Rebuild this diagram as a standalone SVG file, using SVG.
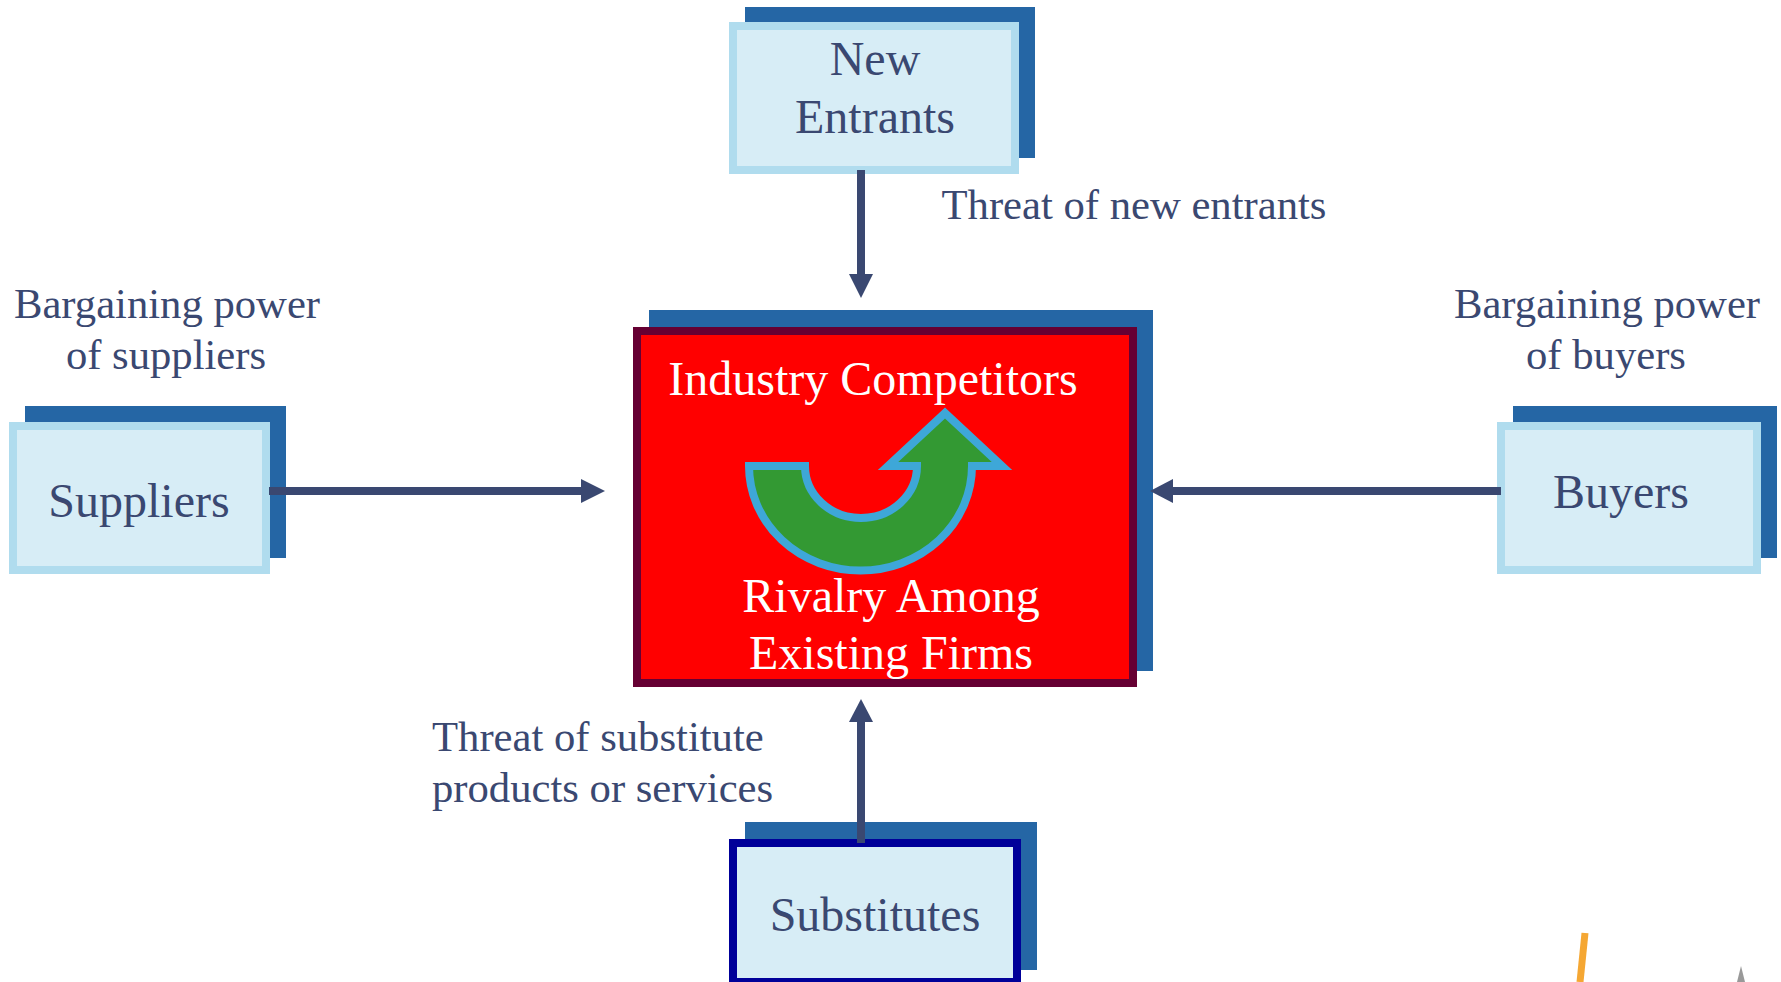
<svg xmlns="http://www.w3.org/2000/svg" width="1781" height="982" viewBox="0 0 1781 982">
<style>
text{font-family:"Liberation Serif","Times New Roman",serif;text-anchor:middle}
.n{font-size:48px;fill:#3a4871}
.l{font-size:42.67px;fill:#3a4871}
.w{font-size:48px;fill:#fff}
.s{fill:#2566a5}
.f{fill:#d7edf6;stroke:#b0dcee;stroke-width:8}
.c{stroke:#3a4871;stroke-width:8;fill:none}
.h{fill:#3a4871}
</style>
<rect width="1781" height="982" fill="#fff"/>
<g id="new-entrants"><rect class="s" x="745" y="7" width="290" height="151"/><rect class="f" x="733" y="26" width="282" height="144"/><text class="n" x="875" y="75">New</text><text class="n" x="875" y="133">Entrants</text></g>
<g id="suppliers"><rect class="s" x="25" y="406" width="261" height="152"/><rect class="f" x="13" y="426" width="253" height="144"/><text class="n" x="139" y="517">Suppliers</text></g>
<g id="buyers"><rect class="s" x="1513" y="406" width="264" height="152"/><rect class="f" x="1501" y="426" width="256" height="144"/><text class="n" x="1621" y="508">Buyers</text></g>
<g id="substitutes"><rect class="s" x="745" y="822" width="292" height="148"/><rect x="733" y="843" width="284" height="139" fill="#d7edf6" stroke="#000099" stroke-width="8"/><text class="n" x="875" y="931">Substitutes</text></g>
<g id="industry-competitors"><rect class="s" x="649" y="310" width="504" height="361"/><rect x="637" y="331" width="496" height="352" fill="#f00" stroke="#660033" stroke-width="8"/>
<path d="M749,466A111,104 0 0 0 972,466L1002,466L945,413L888,466L917,466A56,52 0 0 1 805,466Z" fill="#339933" stroke="#3ea7d8" stroke-width="8" stroke-miterlimit="10"/>
<text class="w" x="873" y="395">Industry Competitors</text><text class="w" x="891" y="612">Rivalry Among</text><text class="w" x="891" y="669">Existing Firms</text></g>
<g id="connectors">
<path class="c" d="M861,170V276"/><path class="h" d="M849,274H873L861,298Z"/>
<path class="c" d="M269,491H584"/><path class="h" d="M581,479V503L605,491Z"/>
<path class="c" d="M1501,491H1170"/><path class="h" d="M1173,479V503L1150,491Z"/>
<path class="c" d="M861,843V720"/><path class="h" d="M849,722H873L861,699Z"/>
</g>
<g id="labels">
<text class="l" x="1134" y="219">Threat of new entrants</text>
<text class="l" x="167" y="318">Bargaining power</text><text class="l" x="166" y="369">of suppliers</text>
<text class="l" x="1607" y="318">Bargaining power</text><text class="l" x="1606" y="369">of buyers</text>
<text class="l" x="432" y="751" style="text-anchor:start">Threat of substitute</text><text class="l" x="432" y="802" style="text-anchor:start">products or services</text>
</g>
<path d="M1585,933L1580,982" stroke="#f5a733" stroke-width="7" fill="none"/>
<path d="M1741,966L1737,982H1745Z" fill="#999"/>
</svg>
